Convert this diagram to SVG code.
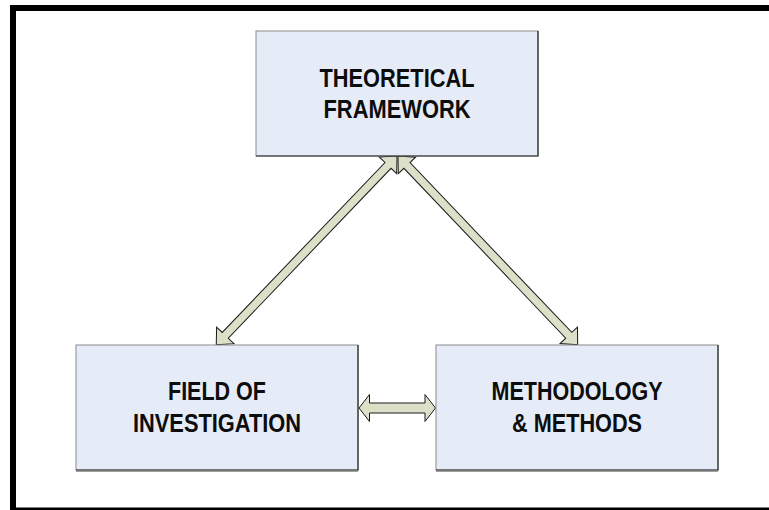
<svg xmlns="http://www.w3.org/2000/svg" width="769" height="510" viewBox="0 0 769 510">
  <style>
    .box { fill: #E6ECF7; stroke: #8A8A8A; stroke-width: 1; }
    .edge { stroke: #2A2A2A; stroke-width: 1.2; fill: none; }
    .label { font-family: "Liberation Sans", Arial, sans-serif; font-weight: bold; font-size: 25.5px; fill: #0D0D0D; text-anchor: middle; }
    .arrow { fill: #DCE0C8; stroke: #1A1A1A; stroke-width: 1; stroke-linejoin: miter; }
  </style>

  <!-- page background and frame -->
  <rect x="0" y="0" width="769" height="510" fill="#FFFFFF"/>
  <rect x="10" y="5" width="759" height="6" fill="#000"/>
  <rect x="10" y="5" width="6" height="505" fill="#000"/>
  <rect x="10" y="507.5" width="759" height="2.5" fill="#000"/>

  <!-- connectors: double-headed block arrows -->
  <g id="connectors">
    <!-- theoretical framework <-> field of investigation -->
    <polygon class="arrow" transform="translate(397,156) rotate(133.76)"
      points="0,0 13,-12 13,-4.2 248.3,-4.2 248.3,-12 261.3,0 248.3,12 248.3,4.2 13,4.2 13,12"/>
    <!-- theoretical framework <-> methodology & methods -->
    <polygon class="arrow" transform="translate(398,156) rotate(46.4)"
      points="0,0 13,-12 13,-4.2 247.6,-4.2 247.6,-12 260.6,0 247.6,12 247.6,4.2 13,4.2 13,12"/>
    <!-- field of investigation <-> methodology & methods -->
    <polygon class="arrow"
      points="359,408 369.5,394.5 369.5,403 425,403 425,394.5 435.5,408 425,421.5 425,413 369.5,413 369.5,421.5"/>
  </g>

  <!-- nodes -->
  <g id="theoretical-framework">
    <rect class="box" x="256" y="31" width="282" height="125"/>
    <polyline class="edge" points="538,31 538,156 256,156"/>
    <text class="label" x="397" y="86.5" textLength="155" lengthAdjust="spacingAndGlyphs">THEORETICAL</text>
    <text class="label" x="397" y="117.5" textLength="147" lengthAdjust="spacingAndGlyphs">FRAMEWORK</text>
  </g>

  <g id="field-of-investigation">
    <rect class="box" x="76" y="345" width="282" height="125"/>
    <polyline class="edge" points="358,345 358,470 76,470"/>
    <line x1="76" y1="471.5" x2="358" y2="471.5" stroke="#A0A0A0" stroke-width="1"/>
    <text class="label" x="217" y="400" textLength="98" lengthAdjust="spacingAndGlyphs">FIELD OF</text>
    <text class="label" x="217" y="431.5" textLength="168" lengthAdjust="spacingAndGlyphs">INVESTIGATION</text>
  </g>

  <g id="methodology-methods">
    <rect class="box" x="436" y="345" width="282" height="125"/>
    <polyline class="edge" points="718,345 718,470 436,470"/>
    <line x1="436" y1="471.5" x2="718" y2="471.5" stroke="#A0A0A0" stroke-width="1"/>
    <text class="label" x="577" y="400" textLength="171" lengthAdjust="spacingAndGlyphs">METHODOLOGY</text>
    <text class="label" x="577" y="431.5" textLength="130" lengthAdjust="spacingAndGlyphs">&amp; METHODS</text>
  </g>
</svg>
